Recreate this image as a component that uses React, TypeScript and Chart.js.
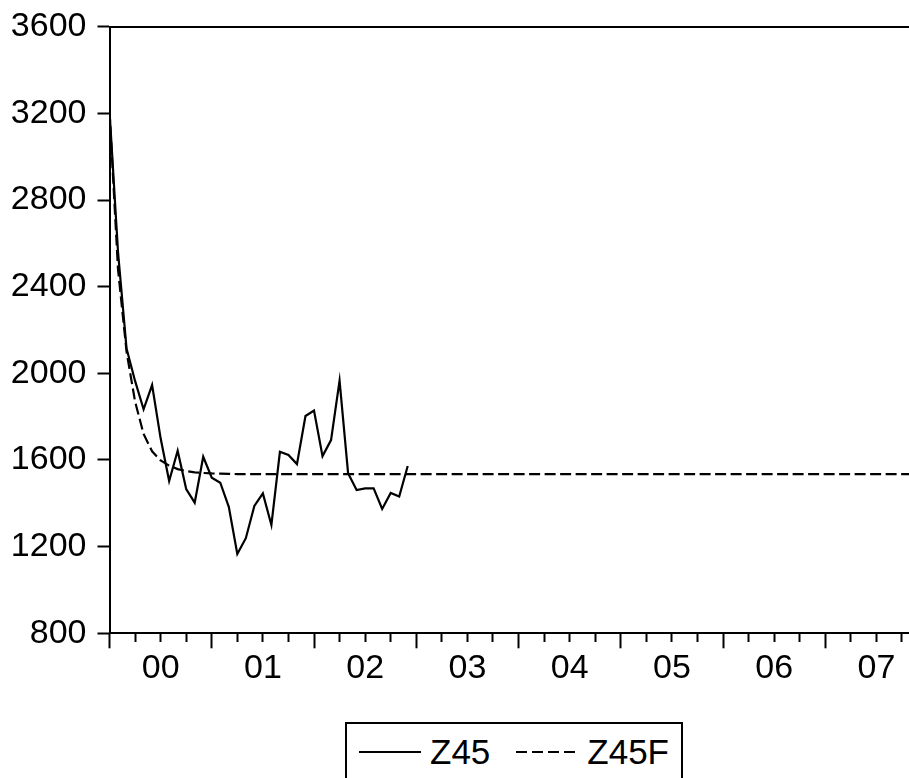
import { useEffect, useRef } from "react";
import { Chart, registerables } from "chart.js";

Chart.register(...registerables);

// Monthly series, month index 0 = January 2000.
const seriesNames = ["Z45", "Z45F"];

// Observed values, Jan 2000 – Dec 2002
const z45 = [
  3212, 2560, 2115, 1965, 1834, 1946, 1700, 1503, 1643, 1466, 1403, 1615,
  1518, 1495, 1384, 1166, 1239, 1388, 1446, 1300, 1638, 1623, 1581, 1803,
  1828, 1618, 1692, 1966, 1539, 1461, 1469, 1469, 1374, 1448, 1431, 1572,
];

// Fitted / forecast values, Jan 2000 – Dec 2007 (one row per year)
const z45f = [
  3212, 2480, 2100, 1870, 1720, 1640, 1598, 1574, 1558, 1549, 1543, 1540,
  1538, 1537, 1536, 1535, 1535, 1535, 1535, 1535, 1535, 1535, 1535, 1535,
  1535, 1535, 1535, 1535, 1535, 1535, 1535, 1535, 1535, 1535, 1535, 1535,
  1535, 1535, 1535, 1535, 1535, 1535, 1535, 1535, 1535, 1535, 1535, 1535,
  1535, 1535, 1535, 1535, 1535, 1535, 1535, 1535, 1535, 1535, 1535, 1535,
  1535, 1535, 1535, 1535, 1535, 1535, 1535, 1535, 1535, 1535, 1535, 1535,
  1535, 1535, 1535, 1535, 1535, 1535, 1535, 1535, 1535, 1535, 1535, 1535,
  1535, 1535, 1535, 1535, 1535, 1535, 1535, 1535, 1535, 1535, 1535, 1535,
];

const yearLabels = ["00", "01", "02", "03", "04", "05", "06", "07"];
const yTicks = { min: 800, max: 3600, step: 400 };
const monthRange = { min: 0, max: 96 };

const FONT = "'Liberation Sans', Arial, Helvetica, sans-serif";
const CANVAS_W = 928;
const CANVAS_H = 700;

export default function App() {
  const canvasRef = useRef<HTMLCanvasElement | null>(null);

  useEffect(() => {
    const canvas = canvasRef.current;
    if (!canvas) return;

    const chart = new Chart(canvas, {
      type: "line",
      data: {
        datasets: [
          {
            label: seriesNames[0],
            data: z45.map((v, i) => ({ x: i, y: v })),
            borderColor: "#000",
            borderWidth: 2.2,
            pointRadius: 0,
            tension: 0,
            fill: false,
          },
          {
            label: seriesNames[1],
            data: z45f.map((v, i) => ({ x: i, y: v })),
            borderColor: "#000",
            borderWidth: 2.2,
            borderDash: [11, 4.5],
            pointRadius: 0,
            tension: 0,
            fill: false,
          },
        ],
      },
      options: {
        responsive: false,
        animation: false,
        events: [],
        layout: { padding: { top: 26.7, right: 0.5, bottom: 0, left: 0 } },
        plugins: {
          legend: { display: false },
          tooltip: { enabled: false },
        },
        scales: {
          x: {
            type: "linear",
            position: "bottom",
            min: monthRange.min,
            max: monthRange.max,
            afterFit: (scale: any) => {
              scale.height = CANVAS_H - 633.3;
              scale.paddingLeft = 0;
              scale.paddingRight = 0;
            },
            border: { display: true, color: "#000", width: 2 },
            grid: {
              display: true,
              drawOnChartArea: false,
              drawTicks: true,
              tickLength: 15,
              tickWidth: 2,
              tickColor: "#000",
              // year boundaries get full-length ticks, quarters short ones
              tickBorderDash: (ctx: any) =>
                ctx.tick && ctx.tick.value % 12 === 0 ? [] : [8, 100],
            },
            ticks: {
              stepSize: 3,
              autoSkip: false,
              maxRotation: 0,
              minRotation: 0,
              padding: 0,
              color: "#000",
              font: { family: FONT, size: 34 },
              callback: (value: any) => {
                const v = Number(value);
                if (v % 12 === 6) {
                  const idx = (v - 6) / 12;
                  return yearLabels[idx] ?? "";
                }
                return "";
              },
            },
          },
          xTop: {
            type: "linear",
            position: "top",
            min: monthRange.min,
            max: monthRange.max,
            afterFit: (scale: any) => {
              scale.height = 0;
              scale.paddingLeft = 0;
              scale.paddingRight = 0;
            },
            border: { display: true, color: "#000", width: 2 },
            grid: { display: false, drawTicks: false },
            ticks: { display: false },
          },
          y: {
            type: "linear",
            position: "left",
            min: yTicks.min,
            max: yTicks.max,
            afterFit: (scale: any) => {
              scale.width = 109.5;
              scale.paddingTop = 0;
              scale.paddingBottom = 0;
            },
            border: { display: true, color: "#000", width: 2 },
            grid: {
              display: true,
              drawOnChartArea: false,
              drawTicks: true,
              tickLength: 12,
              tickWidth: 2,
              tickColor: "#000",
            },
            ticks: {
              stepSize: yTicks.step,
              padding: 11,
              color: "#000",
              font: { family: FONT, size: 34 },
              callback: (value: any) => String(value),
            },
          },
        },
      },
    });

    return () => chart.destroy();
  }, []);

  const samples = [
    { width: 62, height: 2, background: "#000" },
    {
      width: 62,
      height: 2,
      background:
        "repeating-linear-gradient(to right, #000 0px, #000 11px, transparent 11px, transparent 16px)",
    },
  ];

  return (
    <div
      style={{
        position: "fixed",
        left: 0,
        top: 0,
        width: 909,
        height: 778,
        overflow: "hidden",
        background: "#fff",
      }}
    >
      <canvas
        ref={canvasRef}
        width={CANVAS_W}
        height={CANVAS_H}
        style={{ position: "absolute", left: 0, top: 0, width: CANVAS_W, height: CANVAS_H }}
      />
      <div
        style={{
          position: "absolute",
          left: 345,
          top: 722,
          width: 338,
          height: 100,
          border: "2px solid #000",
          boxSizing: "border-box",
          fontFamily: FONT,
          fontSize: 35,
          color: "#000",
        }}
      >
        <div
          style={{
            position: "absolute",
            left: 12,
            top: 10.4,
            display: "flex",
            alignItems: "center",
            lineHeight: "35px",
            whiteSpace: "nowrap",
          }}
        >
          {seriesNames.map((name, i) => (
            <div
              key={name}
              style={{ display: "flex", alignItems: "center", marginRight: i === 0 ? 26 : 0 }}
            >
              <div style={{ ...samples[i], flex: "none" }} />
              <span style={{ marginLeft: 9 }}>{name}</span>
            </div>
          ))}
        </div>
      </div>
    </div>
  );
}
